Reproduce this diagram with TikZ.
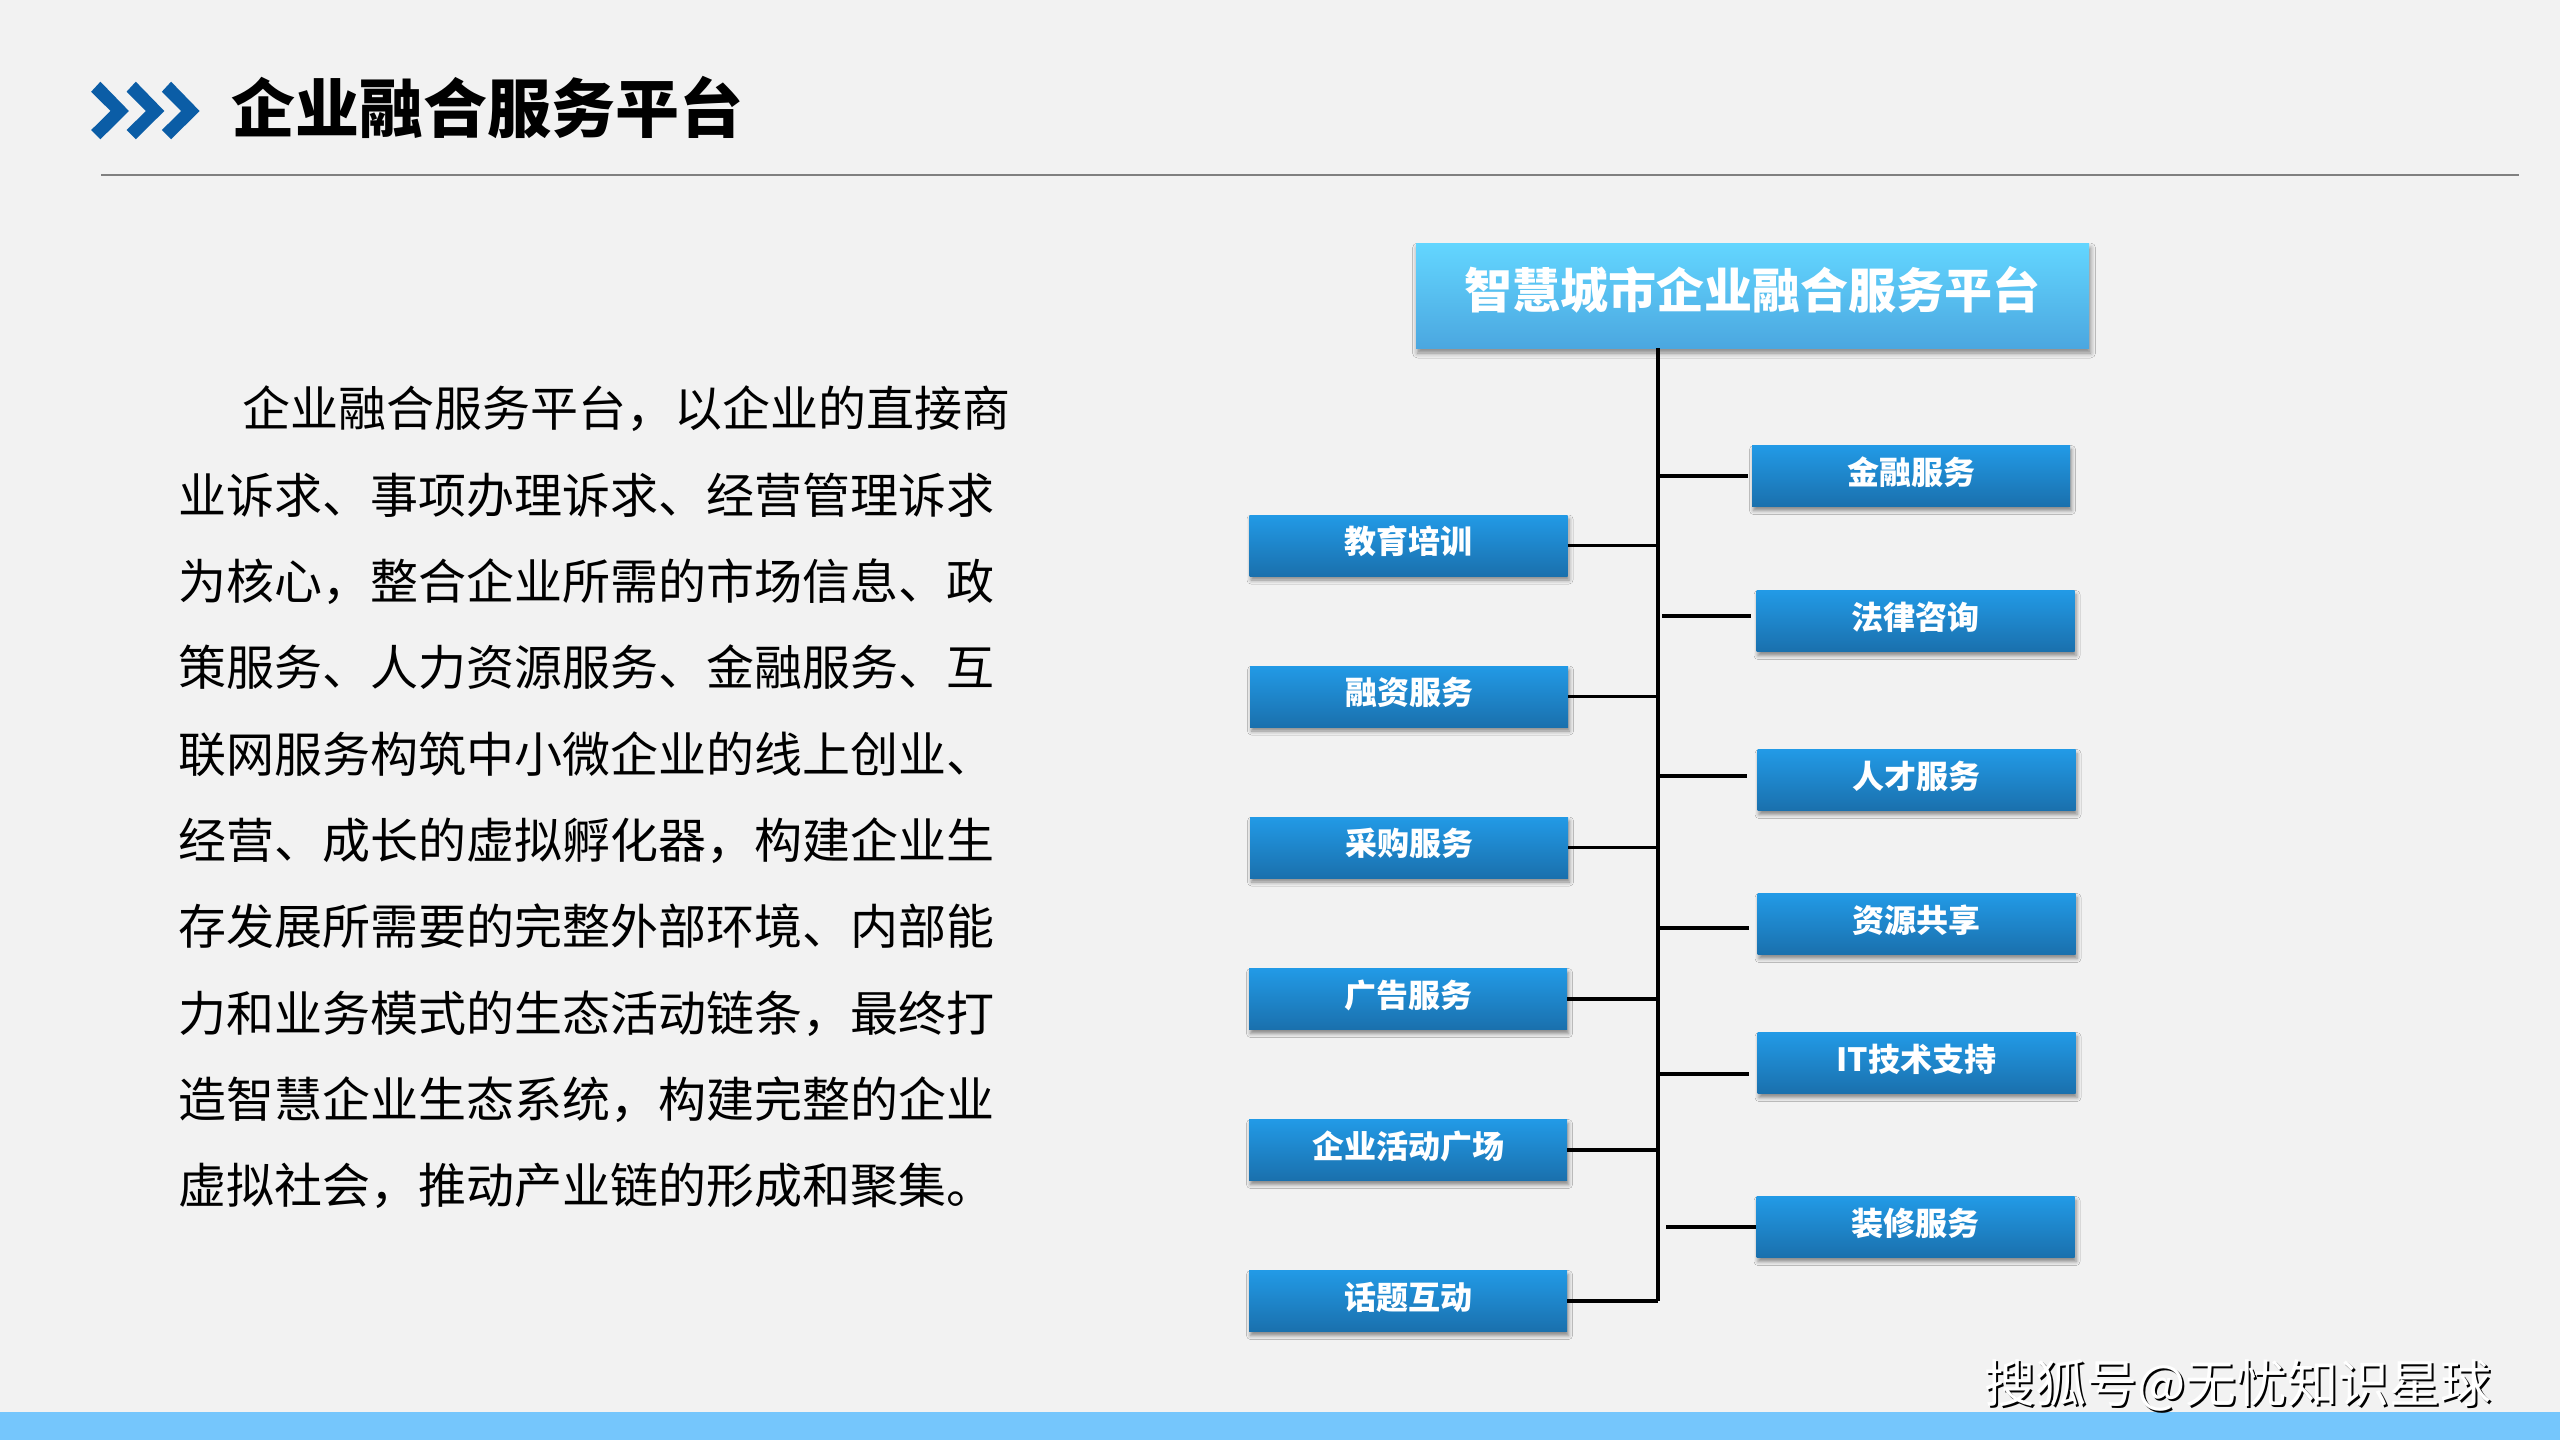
\documentclass[tikz,border=0pt]{standalone}
\usepackage{fontspec}
\setmainfont{Noto Sans CJK SC}
\usetikzlibrary{shadows.blur}
\definecolor{bg}{HTML}{F2F2F2}
\definecolor{chev}{HTML}{0B5DA6}
\definecolor{rule}{HTML}{808080}
\definecolor{toptop}{HTML}{63D6FF}
\definecolor{topbot}{HTML}{4BA7E0}
\definecolor{boxtop}{HTML}{229AE6}
\definecolor{boxbot}{HTML}{1A70AD}
\definecolor{bar}{HTML}{75C6FC}
\begin{document}
\begin{tikzpicture}[x=1pt,y=-1pt,
  box/.style={draw=none, minimum width=318pt, minimum height=61pt, inner sep=0pt,
    top color=boxtop, bottom color=boxbot, text=white,
    text height=24pt, text depth=7.6pt,
    font=\bfseries\fontsize{32pt}{32pt}\selectfont,
    blur shadow={shadow xshift=1.5pt, shadow yshift=-4pt, shadow blur radius=4pt, shadow opacity=45}},
  topbox/.style={draw=none, minimum width=673pt, minimum height=105pt, inner sep=0pt,
    top color=toptop, bottom color=topbot, text=white,
    text height=36pt, text depth=9.6pt,
    font=\bfseries\fontsize{48pt}{48pt}\selectfont,
    blur shadow={shadow xshift=1.5pt, shadow yshift=-5pt, shadow blur radius=5pt, shadow opacity=45}},
  conn/.style={line width=3.2pt, draw=black},
  para/.style={anchor=base west, inner sep=0pt, font=\fontsize{48pt}{48pt}\selectfont, text=black},
  chevshape/.style={fill=chev, draw=none}
]
\useasboundingbox (0,0) rectangle (2560,1440);
\fill[bg] (0,0) rectangle (2560,1440);
\fill[bar] (0,1412) rectangle (2560,1440);

% header chevrons
\foreach \dx in {0,35.4,70.7}{
  \fill[chevshape] (100.4+\dx,81.7) -- (128.9+\dx,111) -- (100.4+\dx,139.3) -- (91.2+\dx,130) -- (110.5+\dx,111) -- (91.2+\dx,91.7) -- cycle;
}
\node[anchor=base west, inner sep=0pt, font=\bfseries\fontsize{64pt}{64pt}\selectfont] (title) at (231,132) {企业融合服务平台};
\draw[rule, line width=2.4pt] (101,175) -- (2519,175);

% paragraph
\node[para] (p1) at (242,426) {企业融合服务平台，以企业的直接商};
\node[para] (p2) at (178,513) {业诉求、事项办理诉求、经营管理诉求};
\node[para] (p3) at (178,599) {为核心，整合企业所需的市场信息、政};
\node[para] (p4) at (178,685) {策服务、人力资源服务、金融服务、互};
\node[para] (p5) at (178,772) {联网服务构筑中小微企业的线上创业、};
\node[para] (p6) at (178,858) {经营、成长的虚拟孵化器，构建企业生};
\node[para] (p7) at (178,944) {存发展所需要的完整外部环境、内部能};
\node[para] (p8) at (178,1031) {力和业务模式的生态活动链条，最终打};
\node[para] (p9) at (178,1117) {造智慧企业生态系统，构建完整的企业};
\node[para] (p10) at (178,1203) {虚拟社会，推动产业链的形成和聚集。};

% diagram
\node[topbox] (top) at (1752.5,295.5) {智慧城市企业融合服务平台};
\coordinate (trunk) at (1658,348);

\node[box] (L1) at (1408.5,545.5) {教育培训};
\node[box] (L2) at (1409,696.5) {融资服务};
\node[box] (L3) at (1409,847.5) {采购服务};
\node[box] (L4) at (1408,999) {广告服务};
\node[box] (L5) at (1408,1150) {企业活动广场};
\node[box] (L6) at (1408,1301) {话题互动};

\node[box] (R1) at (1911,476) {金融服务};
\node[box] (R2) at (1915.5,621) {法律咨询};
\node[box] (R3) at (1916.5,780) {人才服务};
\node[box] (R4) at (1916.5,924) {资源共享};
\node[box] (R5) at (1916.5,1063) {IT技术支持};
\node[box] (R6) at (1915.5,1227) {装修服务};

\draw[conn] (trunk) -- (L6.east -| trunk);
\foreach \n in {L1,L2,L3,L4,L5,L6}{
  \draw[conn] (\n.east) -- (\n.east -| trunk);
}
\draw[conn] (R1.west -| trunk) -- ([xshift=-4pt]R1.west);
\draw[conn] ([xshift=4pt,yshift=5pt]R2.west -| trunk) -- ([xshift=-5pt,yshift=5pt]R2.west);
\draw[conn] ([yshift=4pt]R3.west -| trunk) -- ([xshift=-10pt,yshift=4pt]R3.west);
\draw[conn] ([yshift=-4pt]R4.west -| trunk) -- ([xshift=-8pt,yshift=-4pt]R4.west);
\draw[conn] ([yshift=-11pt]R5.west -| trunk) -- ([xshift=-8pt,yshift=-11pt]R5.west);
\draw[conn] ([xshift=8pt]R6.west -| trunk) -- (R6.west);

% watermark
\node[anchor=base west, inner sep=0pt, font=\fontsize{51pt}{51pt}\selectfont, text=black] (wmshadow) at (1986,1404) {搜狐号@无忧知识星球};
\node[anchor=base west, inner sep=0pt, font=\fontsize{51pt}{51pt}\selectfont, text=white] (wm) at (1984,1402) {搜狐号@无忧知识星球};
\end{tikzpicture}
\end{document}
